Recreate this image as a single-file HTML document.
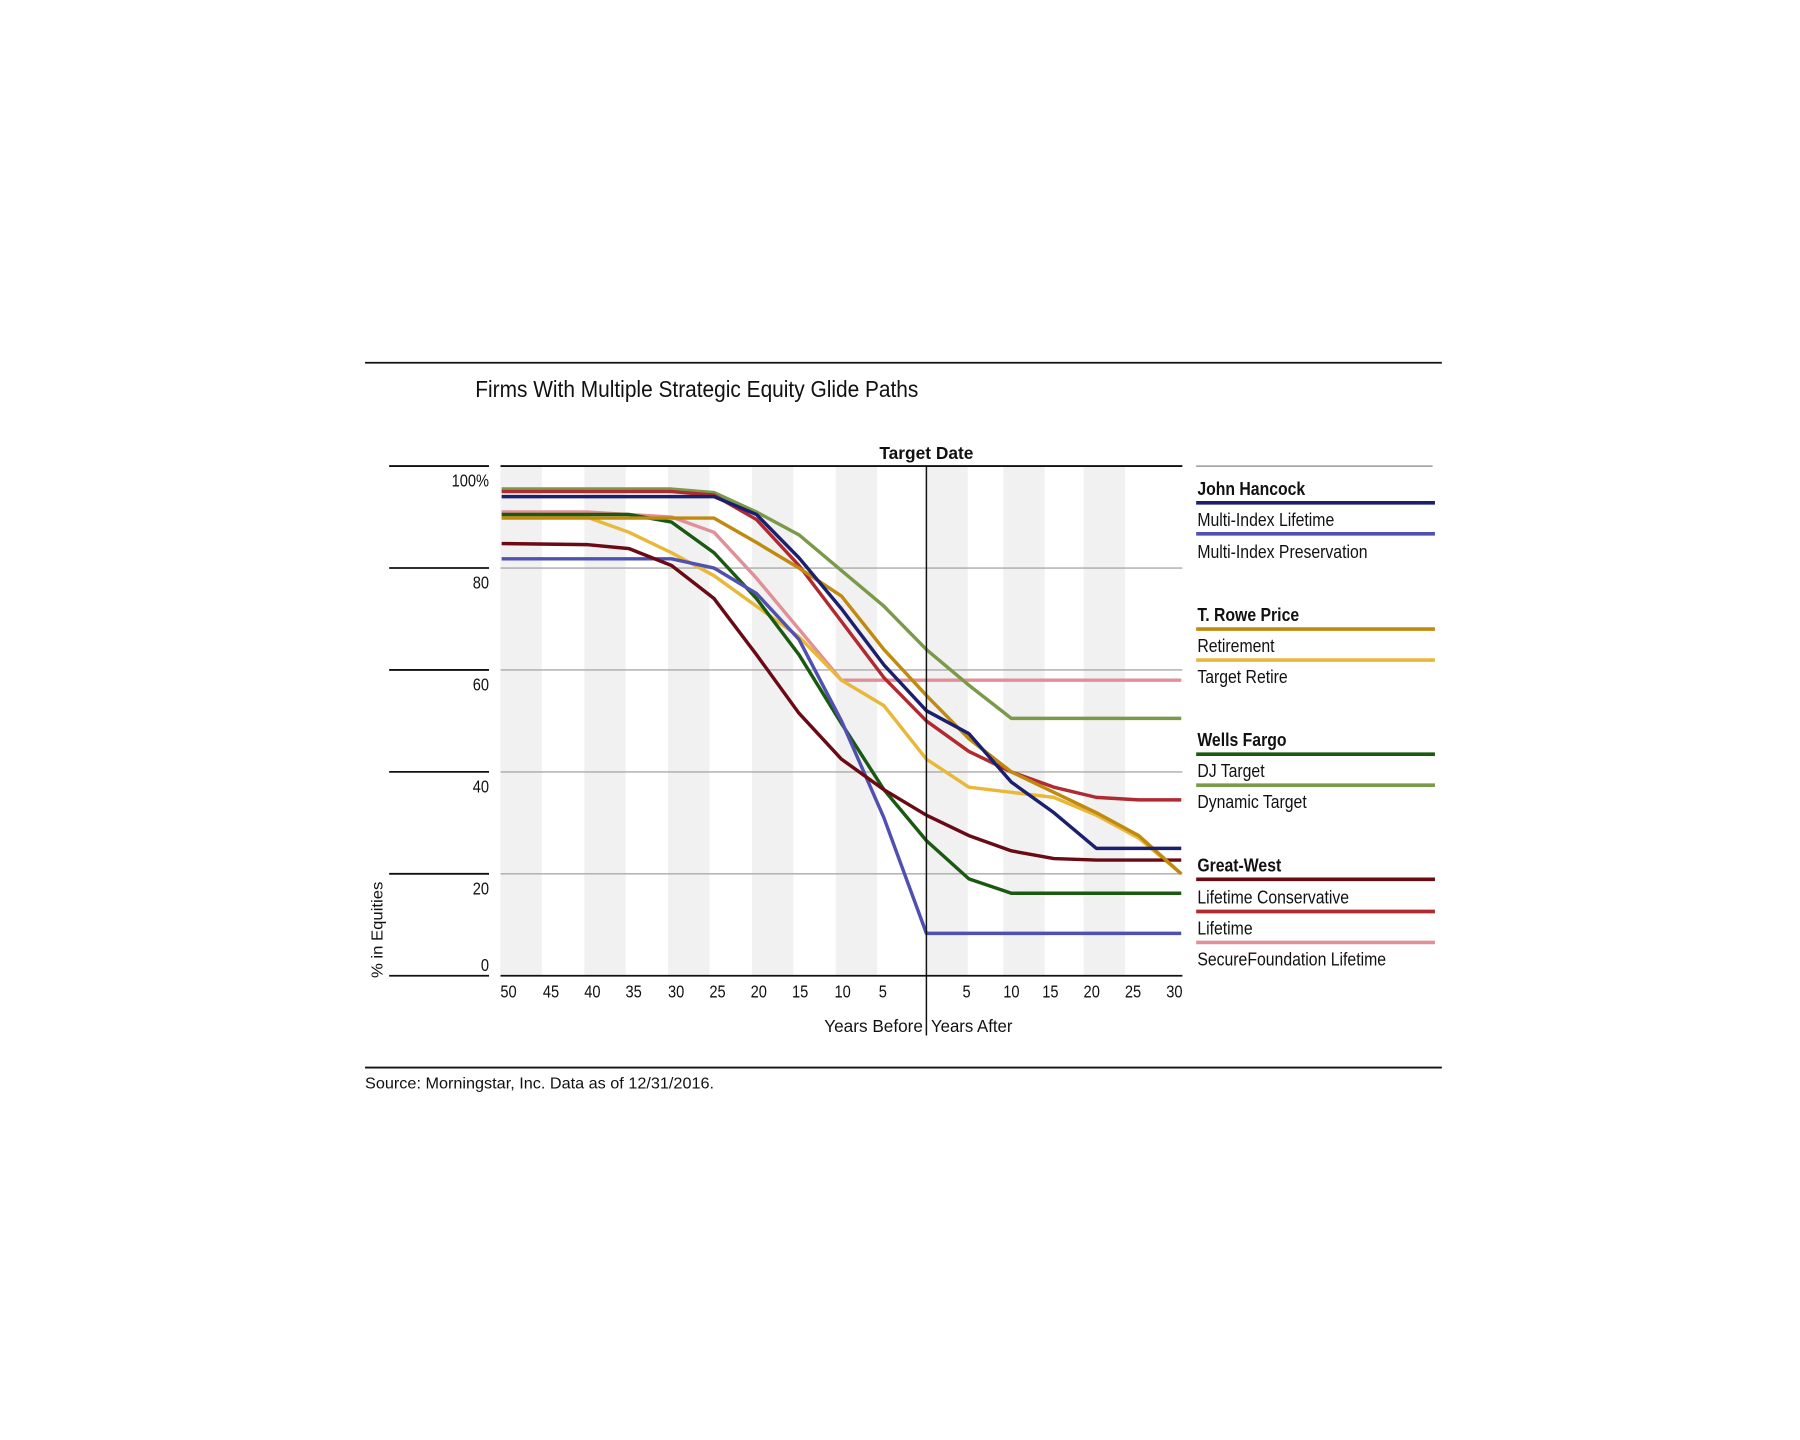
<!DOCTYPE html>
<html><head><meta charset="utf-8"><style>
html,body{margin:0;padding:0;background:#fff;}
svg{display:block;}
text{font-family:"Liberation Sans",sans-serif;fill:#111;}
</style></head><body>
<svg id="s" width="1800" height="1440" viewBox="0 0 1568 1254.4" xmlns="http://www.w3.org/2000/svg">
<rect width="1568" height="1254.4" fill="#fff"/>
<g id="bands" fill="#f1f1f1"></g>
<line x1="318" y1="316" x2="1256" y2="316" stroke="#111" stroke-width="1.6"/>
<text x="414" y="346" font-size="20" textLength="386" lengthAdjust="spacingAndGlyphs">Firms With Multiple Strategic Equity Glide Paths</text>
<text x="807" y="400" font-size="15" font-weight="bold" text-anchor="middle" textLength="82" lengthAdjust="spacingAndGlyphs">Target Date</text>
<g id="grid"></g>
<g id="series" fill="none" stroke-width="3" stroke-linejoin="round"></g>
<line x1="807" y1="406" x2="807" y2="902" stroke="#111" stroke-width="1.3"/>
<text x="807" y="899" font-size="15" text-anchor="end" textLength="86" lengthAdjust="spacingAndGlyphs" dx="-3">Years Before</text>
<text x="811" y="899" font-size="15" textLength="71" lengthAdjust="spacingAndGlyphs">Years After</text>
<text transform="translate(333,852) rotate(-90)" font-size="14" textLength="84" lengthAdjust="spacingAndGlyphs">% in Equities</text>
<line x1="318" y1="930" x2="1256" y2="930" stroke="#111" stroke-width="1.6"/>
<text x="318" y="948" font-size="14" textLength="304" lengthAdjust="spacingAndGlyphs">Source: Morningstar, Inc. Data as of 12/31/2016.</text>
<line x1="1042" y1="406" x2="1248" y2="406" stroke="#999" stroke-width="1.3"/>
<g id="legend"></g>
</svg>
<script>
var NS="http://www.w3.org/2000/svg",s=document.getElementById('s');
function el(p,t,a,txt){var e=document.createElementNS(NS,t);for(var k in a)e.setAttribute(k,a[k]);if(txt)e.textContent=txt;document.getElementById(p).appendChild(e);return e;}
function X(t){return 807+7.4*t;} function Y(v){return 850-4.44*v;}
[436,509,582,655,728,807,874,944].forEach(function(x){el('bands','rect',{x:x,y:406,width:36,height:444});});
[80,60,40,20].forEach(function(v){var y=Y(v);
 el('grid','line',{x1:436,y1:y,x2:1030,y2:y,stroke:'#aaa','stroke-width':1.2});
 el('grid','line',{x1:339,y1:y,x2:426,y2:y,stroke:'#111','stroke-width':1.6});
 el('grid','text',{x:426,y:y+18,'font-size':15,'text-anchor':'end'},String(v));});
el('grid','line',{x1:436,y1:406,x2:1030,y2:406,stroke:'#111','stroke-width':1.6});
el('grid','line',{x1:339,y1:406,x2:426,y2:406,stroke:'#111','stroke-width':1.6});
el('grid','text',{x:426,y:424,'font-size':15,'text-anchor':'end'},'100%');
el('grid','line',{x1:436,y1:850,x2:1030,y2:850,stroke:'#111','stroke-width':1.6});
el('grid','line',{x1:339,y1:850,x2:426,y2:850,stroke:'#111','stroke-width':1.6});
el('grid','text',{x:426,y:846,'font-size':15,'text-anchor':'end'},'0');
var xl=[[443,'50'],[480,'45'],[516,'40'],[552,'35'],[589,'30'],[625,'25'],[661,'20'],[697,'15'],[734,'10'],[769,'5'],[842,'5'],[881,'10'],[915,'15'],[951,'20'],[987,'25'],[1023,'30']];
xl.forEach(function(a){el('grid','text',{x:a[0],y:869,'font-size':15,'text-anchor':'middle'},a[1]);});
var S=[
['#e09098',[[-50,91],[-40,91],[-30,90],[-25,87],[-20,78],[-15,68],[-10,58],[30,58]]],
['#7a9a4a',[[-50,95.5],[-30,95.5],[-25,94.8],[-20,91],[-15,86.5],[-10,79.5],[-5,72.5],[0,64],[5,57],[10,50.5],[30,50.5]]],
['#e8b83a',[[-50,90],[-40,90],[-35,87],[-30,83],[-25,78.5],[-20,72.5],[-15,66.5],[-10,58],[-5,53],[0,42.5],[5,37],[10,36],[15,35],[20,31.5],[25,27],[30,20]]],
['#1a5a10',[[-50,90.5],[-35,90.5],[-30,89],[-25,83],[-20,74],[-15,63],[-10,49.5],[-5,36.5],[0,26.5],[5,19],[10,16.2],[30,16.2]]],
['#5050b0',[[-50,81.8],[-30,81.8],[-25,80],[-20,75],[-15,66],[-10,50],[-5,31],[0,8.3],[30,8.3]]],
['#6a0a14',[[-50,84.8],[-40,84.6],[-35,83.8],[-30,80.5],[-25,74],[-20,63],[-15,51.5],[-10,42.5],[-5,36.5],[0,31.5],[5,27.5],[10,24.5],[15,23],[20,22.7],[30,22.7]]],
['#b02a30',[[-50,95],[-30,95],[-25,94.3],[-20,89.5],[-15,80.5],[-10,69.5],[-5,58.5],[0,50],[5,44],[10,40],[15,37],[20,35],[25,34.5],[30,34.5]]],
['#c08a10',[[-50,89.8],[-25,89.8],[-20,85],[-15,80],[-10,74.5],[-5,64],[0,55],[5,46.5],[10,40],[15,36],[20,32],[25,27.5],[30,20]]],
['#1a1f6e',[[-50,94],[-25,94],[-20,90.5],[-15,82],[-10,72],[-5,61],[0,52],[5,47.5],[10,38],[15,32],[20,25],[30,25]]]
];
S.forEach(function(a){el('series','polyline',{stroke:a[0],points:a[1].map(function(p){return X(p[0]).toFixed(1)+','+Y(p[1]).toFixed(1);}).join(' ')});});
var L=[['John Hancock',431,1,null],['',438,0,'#1a1f6e'],['Multi-Index Lifetime',458,0,null],['',465,0,'#5050b0'],['Multi-Index Preservation',486,0,null],
['T. Rowe Price',541,1,null],['',548,0,'#c08a10'],['Retirement',568,0,null],['',575,0,'#e8b83a'],['Target Retire',595,0,null],
['Wells Fargo',650,1,null],['',657,0,'#1a5a10'],['DJ Target',677,0,null],['',684,0,'#7a9a4a'],['Dynamic Target',704,0,null],
['Great-West',759,1,null],['',766,0,'#6a0a14'],['Lifetime Conservative',787,0,null],['',794,0,'#b02a30'],['Lifetime',814,0,null],['',821,0,'#e09098'],['SecureFoundation Lifetime',841,0,null]];
L.forEach(function(a){
 if(a[3]) el('legend','line',{x1:1042,y1:a[1],x2:1250,y2:a[1],stroke:a[3],'stroke-width':3.2});
 else { var t=el('legend','text',{x:1043,y:a[1],'font-size':16,'font-weight':a[2]?'bold':'normal'},a[0]);
   var w=t.getComputedTextLength(); t.setAttribute('textLength',(w*0.86).toFixed(1)); t.setAttribute('lengthAdjust','spacingAndGlyphs'); }
});
document.querySelectorAll('#grid text').forEach(function(t){var w=t.getComputedTextLength();t.setAttribute('textLength',(w*0.85).toFixed(1));t.setAttribute('lengthAdjust','spacingAndGlyphs');});
</script>
</body></html>
